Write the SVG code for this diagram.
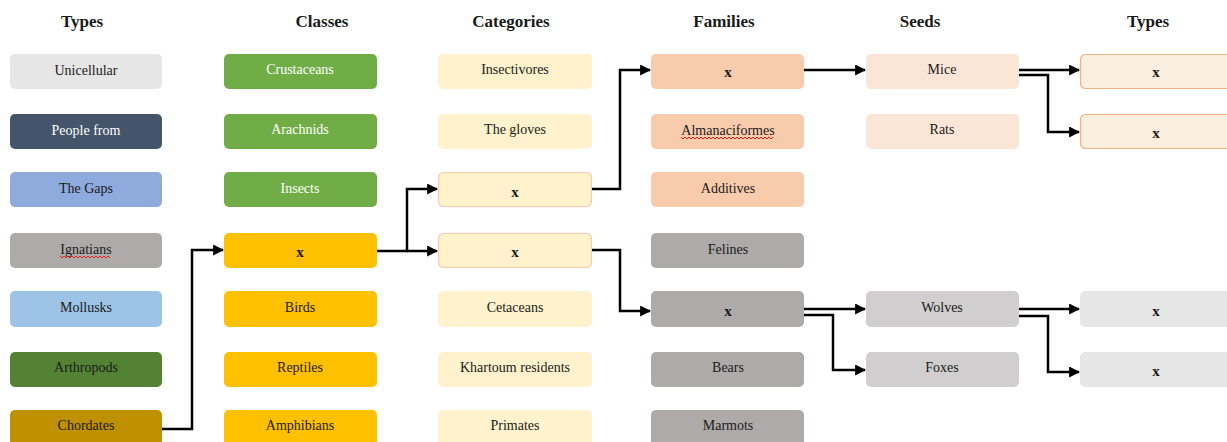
<svg xmlns="http://www.w3.org/2000/svg" width="1227" height="442" viewBox="0 0 1227 442">
<style>
.h{font-family:"Liberation Serif","DejaVu Serif",serif;font-size:17px;font-weight:bold;fill:#1a1a1a;text-anchor:middle}
.t{font-family:"Liberation Serif","DejaVu Serif",serif;font-size:14px;fill:#1a1a1a;text-anchor:middle}
.w{fill:#ffffff}
.x{font-weight:bold;font-size:15px}
.c{fill:none;stroke:#000;stroke-width:2.5}
.sq{fill:none;stroke:#e02020;stroke-width:1}
</style>
<defs>
<marker id="a" viewBox="0 0 10 10" refX="9" refY="5" markerWidth="4.4" markerHeight="4.4" orient="auto" markerUnits="strokeWidth">
<path d="M0,0 L10,5 L0,10 z" fill="#000"/>
</marker>
</defs>
<rect width="1227" height="442" fill="#fff"/>
<g id="headers">
<text class="h" x="82" y="27">Types</text>
<text class="h" x="322" y="27">Classes</text>
<text class="h" x="511" y="27">Categories</text>
<text class="h" x="724" y="27">Families</text>
<text class="h" x="920" y="27">Seeds</text>
<text class="h" x="1148" y="27">Types</text>
</g>
<g id="n-unicellular"><rect x="10" y="54" width="152" height="35" rx="5" fill="#E7E6E6"/><text class="t" x="86" y="75">Unicellular</text></g>
<g id="n-people"><rect x="10" y="114" width="152" height="35" rx="5" fill="#44546A"/><text class="t w" x="86" y="135">People from</text></g>
<g id="n-gaps"><rect x="10" y="172" width="152" height="35" rx="5" fill="#8FAADC"/><text class="t" x="86" y="193">The Gaps</text></g>
<g id="n-ignatians"><rect x="10" y="233" width="152" height="35" rx="5" fill="#AEAAAA"/><text class="t" x="86" y="254">Ignatians</text><path class="sq" d="M60,256 l2,2 l2,-2 l2,2 l2,-2 l2,2 l2,-2 l2,2 l2,-2 l2,2 l2,-2 l2,2 l2,-2 l2,2 l2,-2 l2,2 l2,-2 l2,2 l2,-2 l2,2 l2,-2 l2,2 l2,-2 l2,2 l2,-2 l2,2"/></g>
<g id="n-mollusks"><rect x="10" y="291" width="152" height="36" rx="5" fill="#9DC3E6"/><text class="t" x="86" y="312">Mollusks</text></g>
<g id="n-arthropods"><rect x="10" y="352" width="152" height="35" rx="5" fill="#548235"/><text class="t" x="86" y="372">Arthropods</text></g>
<g id="n-chordates"><rect x="10" y="410" width="152" height="36" rx="5" fill="#BF9000"/><text class="t" x="86" y="430">Chordates</text></g>

<g id="n-crustaceans"><rect x="224" y="54" width="153" height="35" rx="5" fill="#70AD47"/><text class="t w" x="300" y="74">Crustaceans</text></g>
<g id="n-arachnids"><rect x="224" y="114" width="153" height="35" rx="5" fill="#70AD47"/><text class="t w" x="300" y="134">Arachnids</text></g>
<g id="n-insects"><rect x="224" y="172" width="153" height="35" rx="5" fill="#70AD47"/><text class="t w" x="300" y="193">Insects</text></g>
<g id="n-class-x"><rect x="224" y="233" width="153" height="35" rx="5" fill="#FFC000"/><text class="t x" x="300" y="257">x</text></g>
<g id="n-birds"><rect x="224" y="291" width="153" height="36" rx="5" fill="#FFC000"/><text class="t" x="300" y="312">Birds</text></g>
<g id="n-reptiles"><rect x="224" y="352" width="153" height="35" rx="5" fill="#FFC000"/><text class="t" x="300" y="372">Reptiles</text></g>
<g id="n-amphibians"><rect x="224" y="410" width="153" height="36" rx="5" fill="#FFC000"/><text class="t" x="300" y="430">Amphibians</text></g>

<g id="n-insectivores"><rect x="438" y="54" width="154" height="35" rx="5" fill="#FFF2CC"/><text class="t" x="515" y="74">Insectivores</text></g>
<g id="n-gloves"><rect x="438" y="114" width="154" height="35" rx="5" fill="#FFF2CC"/><text class="t" x="515" y="134">The gloves</text></g>
<g id="n-cat-x1"><rect x="438.5" y="172.5" width="153" height="34" rx="5" fill="#FFF2CC" stroke="#F8CBAD" stroke-width="1.2"/><text class="t x" x="515" y="197">x</text></g>
<g id="n-cat-x2"><rect x="438.5" y="233.5" width="153" height="34" rx="5" fill="#FFF2CC" stroke="#F8CBAD" stroke-width="1.2"/><text class="t x" x="515" y="257">x</text></g>
<g id="n-cetaceans"><rect x="438" y="291" width="154" height="36" rx="5" fill="#FFF2CC"/><text class="t" x="515" y="312">Cetaceans</text></g>
<g id="n-khartoum"><rect x="438" y="352" width="154" height="35" rx="5" fill="#FFF2CC"/><text class="t" x="515" y="372">Khartoum residents</text></g>
<g id="n-primates"><rect x="438" y="410" width="154" height="36" rx="5" fill="#FFF2CC"/><text class="t" x="515" y="430">Primates</text></g>

<g id="n-fam-x1"><rect x="651" y="54" width="153" height="35" rx="5" fill="#F8CBAD"/><text class="t x" x="728" y="77">x</text></g>
<g id="n-almanac"><rect x="651" y="114" width="153" height="35" rx="5" fill="#F8CBAD"/><text class="t" x="728" y="135">Almanaciformes</text><path class="sq" d="M681,137 l2,2 l2,-2 l2,2 l2,-2 l2,2 l2,-2 l2,2 l2,-2 l2,2 l2,-2 l2,2 l2,-2 l2,2 l2,-2 l2,2 l2,-2 l2,2 l2,-2 l2,2 l2,-2 l2,2 l2,-2 l2,2 l2,-2 l2,2 l2,-2 l2,2 l2,-2 l2,2 l2,-2 l2,2 l2,-2 l2,2 l2,-2 l2,2 l2,-2 l2,2 l2,-2 l2,2 l2,-2 l2,2 l2,-2 l2,2 l2,-2 l2,2 l2,-2"/></g>
<g id="n-additives"><rect x="651" y="172" width="153" height="35" rx="5" fill="#F8CBAD"/><text class="t" x="728" y="193">Additives</text></g>
<g id="n-felines"><rect x="651" y="233" width="153" height="35" rx="5" fill="#AEAAAA"/><text class="t" x="728" y="254">Felines</text></g>
<g id="n-fam-x2"><rect x="651" y="291" width="153" height="36" rx="5" fill="#AEAAAA"/><text class="t x" x="728" y="316">x</text></g>
<g id="n-bears"><rect x="651" y="352" width="153" height="35" rx="5" fill="#AEAAAA"/><text class="t" x="728" y="372">Bears</text></g>
<g id="n-marmots"><rect x="651" y="410" width="153" height="36" rx="5" fill="#AEAAAA"/><text class="t" x="728" y="430">Marmots</text></g>

<g id="n-mice"><rect x="866" y="54" width="153" height="35" rx="5" fill="#FBE5D6"/><text class="t" x="942" y="74">Mice</text></g>
<g id="n-rats"><rect x="866" y="114" width="153" height="35" rx="5" fill="#FBE5D6"/><text class="t" x="942" y="134">Rats</text></g>
<g id="n-wolves"><rect x="866" y="291" width="153" height="36" rx="5" fill="#D0CECE"/><text class="t" x="942" y="312">Wolves</text></g>
<g id="n-foxes"><rect x="866" y="352" width="153" height="35" rx="5" fill="#D0CECE"/><text class="t" x="942" y="372">Foxes</text></g>

<g id="n-type-x1"><rect x="1080.5" y="54.5" width="160" height="34" rx="5" fill="#FBEFE0" stroke="#F4B183" stroke-width="1.2"/><text class="t x" x="1156" y="77">x</text></g>
<g id="n-type-x2"><rect x="1080.5" y="114.5" width="160" height="34" rx="5" fill="#FBEFE0" stroke="#F4B183" stroke-width="1.2"/><text class="t x" x="1156" y="138">x</text></g>
<g id="n-type-x3"><rect x="1080" y="291" width="160" height="36" rx="5" fill="#E7E6E6"/><text class="t x" x="1156" y="316">x</text></g>
<g id="n-type-x4"><rect x="1080" y="352" width="160" height="35" rx="5" fill="#E7E6E6"/><text class="t x" x="1156" y="376">x</text></g>

<g id="connectors">
<path class="c" d="M162,429 H192 V250 H223" marker-end="url(#a)"/>
<path class="c" d="M377,251 H407 V189 H437" marker-end="url(#a)"/>
<path class="c" d="M407,251 H437" marker-end="url(#a)"/>
<path class="c" d="M592,189 H620 V70 H650" marker-end="url(#a)"/>
<path class="c" d="M592,250 H620 V311 H650" marker-end="url(#a)"/>
<path class="c" d="M804,70 H865" marker-end="url(#a)"/>
<path class="c" d="M1019,70 H1079" marker-end="url(#a)"/>
<path class="c" d="M1019,75 H1048 V132 H1079" marker-end="url(#a)"/>
<path class="c" d="M804,309 H865" marker-end="url(#a)"/>
<path class="c" d="M804,315 H833 V370 H865" marker-end="url(#a)"/>
<path class="c" d="M1019,309 H1079" marker-end="url(#a)"/>
<path class="c" d="M1019,316 H1048 V372 H1079" marker-end="url(#a)"/>
</g>
</svg>
